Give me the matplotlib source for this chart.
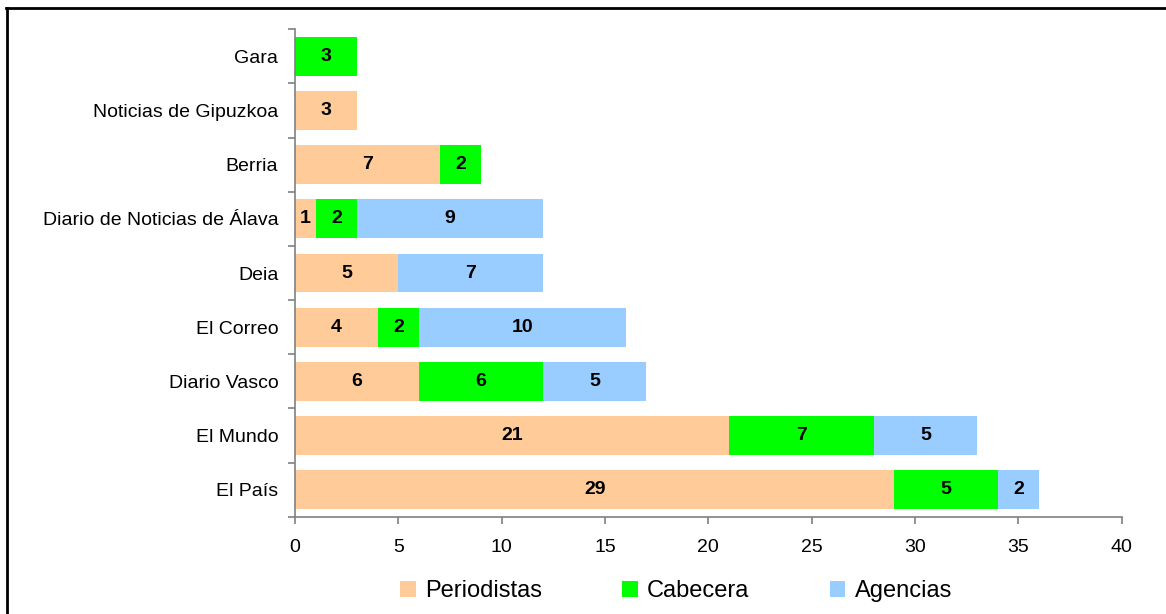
import numpy as np
import matplotlib
matplotlib.use('Agg')
import matplotlib.pyplot as plt
from matplotlib.lines import Line2D
from matplotlib.patches import Patch

plt.rcParams['font.family'] = ['Liberation Sans', 'DejaVu Sans']

# categories listed from top to bottom as in the chart
diarios = ['Gara', 'Noticias de Gipuzkoa', 'Berria', 'Diario de Noticias de Álava',
           'Deia', 'El Correo', 'Diario Vasco', 'El Mundo', 'El País']
periodistas = [0, 3, 7, 1, 5, 4, 6, 21, 29]
cabecera = [3, 0, 2, 2, 0, 2, 6, 7, 5]
agencias = [0, 0, 0, 9, 7, 10, 5, 5, 2]

series = [('Periodistas', periodistas, '#FFCC99'),
          ('Cabecera', cabecera, '#00FF00'),
          ('Agencias', agencias, '#99CCFF')]

W, H = 1166, 614
fig = plt.figure(figsize=(W / 100, H / 100), dpi=100)
ax = fig.add_axes([295 / W, 1 - 516.7 / H, (1121.7 - 295) / W, (516.7 - 29.3) / H])

n = len(diarios)
y = np.arange(n)[::-1]
left = np.zeros(n)
for name, vals, color in series:
    vals = np.array(vals, dtype=float)
    ax.barh(y, vals, left=left, height=0.72, color=color, edgecolor='none')
    for yi, l, v in zip(y, left, vals):
        if v > 0:
            ax.text(l + v / 2, yi, '%d' % v, ha='center', va='center',
                    fontsize=14, fontweight='bold', color='black')
    left += vals

ax.set_xlim(0, 40)
ax.set_ylim(-0.5, n - 0.5)
ax.set_xticks(np.arange(0, 41, 5))
ax.set_yticks(y)
ax.set_yticklabels(diarios)
ax.set_yticks(np.arange(-0.5, n, 1), minor=True)
ax.tick_params(axis='y', which='major', length=0, pad=12, labelsize=14)
ax.tick_params(axis='y', which='minor', length=5, color='#808080', width=1.2)
ax.tick_params(axis='x', length=5, color='#808080', width=1.2, labelsize=14, pad=11)
for s in ['top', 'right']:
    ax.spines[s].set_visible(False)
for s in ['left', 'bottom']:
    ax.spines[s].set_color('#808080')
    ax.spines[s].set_linewidth(1.2)

handles = [Patch(facecolor=c, edgecolor='none', label=nm) for nm, _, c in series]
fig.legend(handles=handles, loc='center', bbox_to_anchor=(676 / W, 1 - 591 / H),
           ncol=3, frameon=False, fontsize=17, handlelength=0.65, handleheight=0.65,
           handletextpad=0.4, columnspacing=3.4)

# outer frame (top and left edges visible in the reference)
fig.add_artist(Line2D([6 / W, 1], [1 - 7.5 / H, 1 - 7.5 / H], color='black', lw=2,
                      transform=fig.transFigure))
fig.add_artist(Line2D([7 / W, 7 / W], [0, 1 - 7.5 / H], color='black', lw=2,
                      transform=fig.transFigure))

fig.savefig('out.png', dpi=100)
